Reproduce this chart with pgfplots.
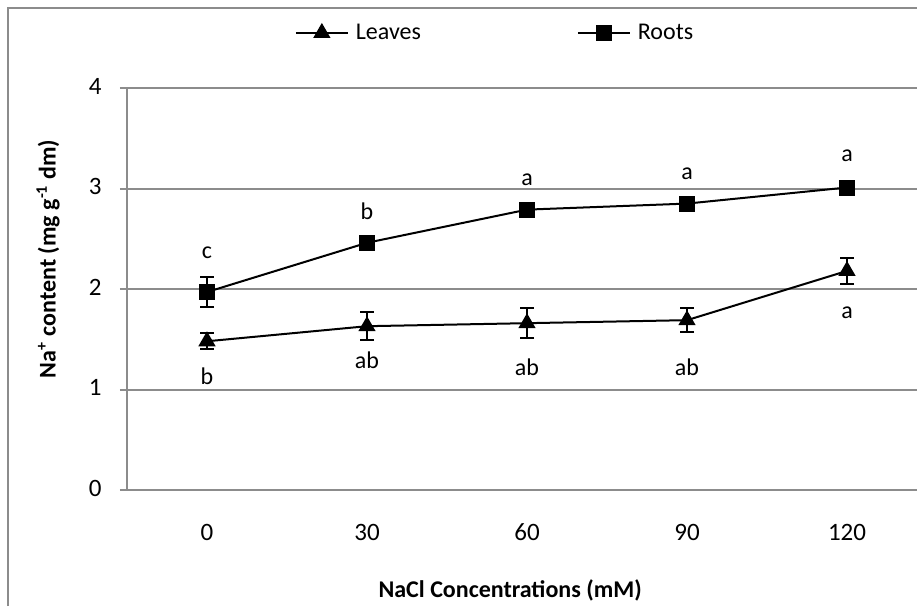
\documentclass[border=0pt]{standalone}
\usepackage{fontspec}
\setmainfont{Carlito}
\usepackage{pgfplots}
\pgfplotsset{compat=1.18}
\usepackage{pgfplotstable}

\definecolor{gridgray}{RGB}{140,140,140}

% 1 px of the reference = 0.5pt
\pgfplotstableread{
x y err
0 1.48 0.08
1 1.63 0.14
2 1.66 0.15
3 1.69 0.12
4 2.18 0.13
}\leaves

\pgfplotstableread{
x y err
0 1.97 0.15
1 2.46 0.02
2 2.79 0.02
3 2.85 0.02
4 3.01 0.05
}\roots

\pgfplotstableread{
x y lab
0 2.36 c
1 2.77 b
2 3.09 a
3 3.15 a
4 3.33 a
0 1.13 b
1 1.29 ab
2 1.22 ab
3 1.22 ab
4 1.76 a
}\letters

\begin{document}
\begin{tikzpicture}[font=\fontsize{12}{14}\selectfont]
\begin{axis}[
    at={(63.5pt,-245pt)}, anchor=south west,
    scale only axis,
    width=395pt, height=201pt,
    xmin=-0.5, xmax=4.4375,
    ymin=0, ymax=4,
    axis x line=bottom, axis y line=left,
    axis line style={gridgray, line width=1pt, -},
    xtick={0,1,2,3,4},
    xticklabels={0,30,60,90,120},
    ytick={0,1,2,3,4},
    major x tick style={draw=none},
    major y tick style={gridgray, line width=1pt},
    tick align=outside,
    major tick length=3.5pt,
    ymajorgrids,
    major grid style={gridgray, line width=1pt},
    /pgf/number format/assume math mode=true,
    tick label style={font=\fontsize{12.5}{14}\selectfont},
    xticklabel style={anchor=center, yshift=-17.5pt, inner sep=0pt},
    yticklabel style={anchor=east, inner sep=0pt, xshift=-9pt, yshift=1pt},
    ylabel={\textbf{Na\textsuperscript{+} content (mg g\textsuperscript{-1} dm)}},
    ylabel style={at={(rel axis cs:-0.1,0.575)}, anchor=center, rotate=0},
    xlabel={\textbf{NaCl Concentrations (mM)}},
    xlabel style={at={(rel axis cs:0.485,-0.249)}, anchor=center},
    legend columns=2,
    legend style={at={(rel axis cs:0.4646,1.137)}, anchor=center, draw=none, fill=none,
        inner sep=0pt,
        /tikz/every even column/.append style={column sep=78pt},
        nodes={inner sep=0pt, xshift=0pt}},
    legend image code/.code={%
        \draw[mark repeat=2, mark phase=2] plot coordinates {(0pt,0pt) (13pt,0pt) (26pt,0pt)};},
    clip=false,
]
\addplot[black, line width=1pt, mark=triangle*, mark size=4pt,
    mark options={solid},
    error bars/.cd, y dir=both, y explicit,
    error bar style={line width=1pt}, error mark options={rotate=90, mark size=3.5pt, line width=1pt}]
    table[x=x, y=y, y error=err] {\leaves};
\addlegendentry{\hspace{3.5pt}Leaves}
\addplot[black, line width=1pt, mark=square*, mark size=3.5pt,
    error bars/.cd, y dir=both, y explicit,
    error bar style={line width=1pt}, error mark options={rotate=90, mark size=3.5pt, line width=1pt}]
    table[x=x, y=y, y error=err] {\roots};
\addlegendentry{\hspace{3.5pt}Roots}
\addplot[draw=none, mark=none, nodes near coords, point meta=explicit symbolic,
    nodes near coords align={center}, forget plot]
    table[x=x, y=y, meta=lab] {\letters};
\end{axis}
\draw[gridgray, line width=1pt] (4pt,-303pt) -- (4pt,-4pt) -- (458.5pt,-4pt);
\pgfresetboundingbox
\path[use as bounding box] (0pt,0pt) rectangle (458.5pt,-303pt);
\end{tikzpicture}
\end{document}
